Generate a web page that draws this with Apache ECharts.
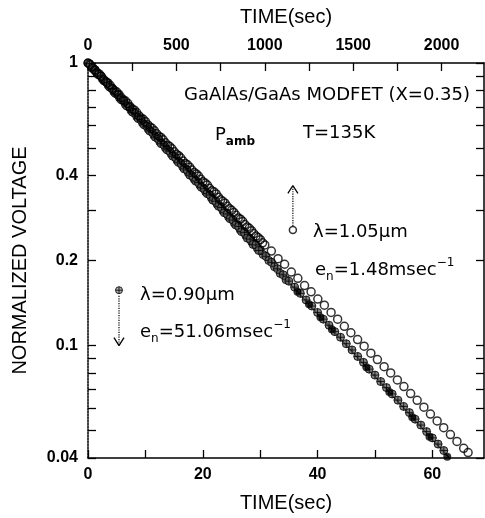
<!DOCTYPE html>
<html><head><meta charset="utf-8">
<script src="https://cdn.jsdelivr.net/npm/echarts/dist/echarts.min.js"></script>
<style>html,body{margin:0;padding:0;background:#fff}#c{width:485px;height:518px}</style>
</head><body><div id="c"></div>
<script>
// λ = 0.90 µm data (bottom time axis, seconds)
const timesA = [0,0.5,1,1.5,2,2.5,3,3.5,4,4.5,5,5.5,6,6.5,7,7.5,8,8.5,9,9.5,10,10.5,11,11.5,12,12.5,13,13.5,14,14.5,15,15.5,16,16.5,17,17.5,18,18.5,19,19.5,20,20.5,21,21.5,22,22.5,23,23.5,24,24.5,25,25.5,26,26.5,27,27.5,28,28.5,29,29.5,30,30.5,31,31.5,32,32.5,33,33.5,34,34.5,35,36,37,38,39,40,41,42,43,44,45,46,47,48,49,50,51,52,53,54,55,56,57,58,59,60,61,62];
const voltsA = [1.000,0.972,0.952,0.924,0.905,0.878,0.861,0.834,0.818,0.791,0.776,0.752,0.738,0.714,0.701,0.679,0.667,0.645,0.634,0.613,0.602,0.583,0.572,0.553,0.544,0.526,0.517,0.500,0.491,0.476,0.467,0.452,0.444,0.429,0.422,0.408,0.401,0.388,0.381,0.369,0.362,0.350,0.344,0.333,0.327,0.316,0.311,0.300,0.295,0.285,0.281,0.271,0.267,0.257,0.254,0.245,0.241,0.233,0.229,0.221,0.218,0.210,0.207,0.200,0.197,0.190,0.187,0.180,0.178,0.171,0.169,0.161,0.153,0.145,0.138,0.131,0.124,0.118,0.112,0.107,0.1015,0.0965,0.0915,0.0872,0.0825,0.0786,0.0746,0.0710,0.0674,0.0641,0.0609,0.0579,0.0549,0.0523,0.0496,0.0471,0.0448,0.0425];
// extra λ = 0.90 µm readings in the dense early part of the decay
const timesA2 = [0.25,0.75,1.25,1.75,2.25,2.75,3.25,3.75,4.25,4.75,5.25,5.75,6.25,6.75,7.25,7.75,8.25,8.75,9.25,9.75,10.25,10.75,11.25,11.75,12.25,12.75,13.25,13.75,14.25,14.75,15.25,15.75,16.25,16.75,17.25,17.75,18.25,18.75,19.25,19.75,20.25,20.75,21.25,21.75,22.25,22.75,23.25,23.75,24.25,24.75,25.25,25.75,26.25,26.75,27.25,27.75,28.25,28.75,29.25,29.75];
const voltsA2 = [0.995,0.958,0.946,0.910,0.899,0.865,0.854,0.822,0.812,0.781,0.771,0.742,0.733,0.705,0.697,0.670,0.662,0.636,0.629,0.605,0.597,0.575,0.567,0.546,0.539,0.518,0.512,0.493,0.487,0.468,0.463,0.445,0.440,0.422,0.418,0.401,0.397,0.382,0.377,0.363,0.359,0.345,0.341,0.327,0.324,0.311,0.308,0.295,0.292,0.281,0.278,0.267,0.264,0.253,0.251,0.240,0.238,0.228,0.227,0.217];
// solid black points on the λ = 0.90 µm trace
const timesFilled = [36.5,38.5,40.5,42.5,48.5,52.5,56.5,59.5,62.6];
const voltsFilled = [0.155,0.140,0.126,0.114,0.0838,0.0685,0.0558,0.0476,0.0404];
// λ = 1.05 µm data (top time axis, seconds)
const timesB = [0,25,50,75,100,125,150,175,200,225,250,275,300,325,350,375,400,425,450,475,500,525,550,575,600,625,650,675,700,725,750,775,800,825,850,875,900,925,950,975,1000,1037,1075,1112,1150,1187,1225,1262,1300,1337,1375,1412,1450,1487,1525,1562,1600,1637,1675,1712,1750,1787,1825,1862,1900,1937,1975,2012,2050,2087,2125,2150];
const voltsB = [1.000,0.966,0.926,0.897,0.860,0.834,0.798,0.774,0.741,0.719,0.688,0.668,0.639,0.620,0.594,0.576,0.551,0.535,0.512,0.497,0.475,0.461,0.441,0.428,0.410,0.398,0.380,0.370,0.353,0.344,0.328,0.319,0.305,0.296,0.283,0.275,0.263,0.255,0.244,0.237,0.227,0.216,0.203,0.194,0.182,0.173,0.163,0.155,0.146,0.139,0.131,0.124,0.117,0.111,0.105,0.0995,0.0940,0.0892,0.0842,0.0800,0.0756,0.0716,0.0676,0.0640,0.0605,0.0572,0.0541,0.0512,0.0484,0.0458,0.0433,0.0418];
// extra λ = 1.05 µm readings in the dense early part
const timesB2 = [12.5,37.5,62.5,87.5,112.5,137.5,162.5,187.5,212.5,237.5,262.5,287.5,312.5,337.5,362.5,387.5,412.5,437.5,462.5,487.5,512.5,537.5,562.5,587.5,612.5,637.5,662.5,687.5,712.5,737.5,762.5,787.5,812.5,837.5,862.5,887.5,912.5,937.5,962.5,987.5];
const voltsB2 = [0.985,0.943,0.915,0.876,0.850,0.813,0.789,0.755,0.733,0.701,0.681,0.651,0.632,0.605,0.587,0.562,0.545,0.522,0.506,0.485,0.470,0.450,0.436,0.418,0.405,0.388,0.376,0.360,0.350,0.335,0.324,0.311,0.301,0.289,0.280,0.268,0.260,0.249,0.241,0.231];
// fit line (bottom axis)
const fitT = [0, 63];
const fitV = [1, 0.04];
// axis ticks / labels
const bottomLabels = [0,20,40,60];
const bottomTicks = [0,10,20,30,40,50,60];
const topLabels = [0,500,1000,1500,2000];
const topTicks = [0,250,500,750,1000,1250,1500,1750,2000];
const yLabels = [1,0.4,0.2,0.1,0.04];
const yTicks = [1,0.9,0.8,0.7,0.6,0.5,0.4,0.3,0.2,0.1,0.09,0.08,0.07,0.06,0.05,0.04];
// annotation arrows (bottom-axis coordinates)
const arrowDownT = [5.4, 5.4];
const arrowDownV = [0.150, 0.100];
const headDownT = [4.53, 5.4, 6.27];
const headDownV = [0.1067, 0.100, 0.1067];
const markerDown = [5.4, 0.157];
const arrowUpT = [35.7, 35.7];
const arrowUpV = [0.265, 0.3685];
const headUpT = [34.83, 35.7, 36.57];
const headUpV = [0.3454, 0.3685, 0.3454];
const markerUp = [35.7, 0.2565];

const zip = (a, b) => a.map((v, i) => [v, b[i]]);
const FONT = '"Liberation Sans", Arial, Helvetica, sans-serif';
const AFONT = '"DejaVu Sans", "Liberation Sans", sans-serif';
const crossCircle = 'path://M10,0A10,10,0,1,1,10,20A10,10,0,1,1,10,0ZM10,0L10,20M0,10L20,10';

const chart = echarts.init(document.getElementById('c'), null, {renderer: 'canvas'});
const axisLine = {show: true, onZero: false, lineStyle: {color: '#000', width: 1.5}};
const tickStyle = {color: '#000', width: 1.3};
const yAxisBase = {
  type: 'log', logBase: 10, min: 0.04, max: 1,
  splitLine: {show: false},
  axisTick: {show: true, inside: true, length: 8, customValues: yTicks, lineStyle: tickStyle},
  minorTick: {show: false}
};
const rich = {
  a: {fontSize: 18, fontFamily: AFONT, color: '#000', lineHeight: 26},
  sub: {fontSize: 12, fontFamily: AFONT, color: '#000', lineHeight: 14, verticalAlign: 'bottom'},
  subb: {fontSize: 12, fontFamily: AFONT, fontWeight: 'bold', color: '#000', lineHeight: 14, verticalAlign: 'bottom'},
  sup: {fontSize: 12, fontFamily: AFONT, color: '#000', lineHeight: 14, verticalAlign: 'top'}
};
function txt(text, x, y, align) {
  return {type: 'text', x: x, y: y, style: {text: text, rich: rich, fill: '#000', font: '18px ' + AFONT, align: align || 'left', verticalAlign: 'middle'}};
}
const labelStyle = {fontSize: 16, fontWeight: 'bold', fontFamily: FONT, color: '#000'};
chart.setOption({
  animation: false,
  backgroundColor: '#fff',
  grid: {left: 88, right: 1, top: 63, bottom: 55, containLabel: false},
  xAxis: [
    {type: 'value', position: 'bottom', min: 0, max: 69,
     name: 'TIME(sec)', nameLocation: 'middle', nameGap: 35,
     nameTextStyle: {fontSize: 20, fontFamily: FONT, color: '#000'},
     axisLine: axisLine, splitLine: {show: false},
     axisTick: {inside: true, length: 8, customValues: bottomTicks, lineStyle: tickStyle},
     axisLabel: Object.assign({customValues: bottomLabels, margin: 9, formatter: v => String(v)}, labelStyle)},
    {type: 'value', position: 'top', min: 0, max: 2240,
     name: 'TIME(sec)', nameLocation: 'middle', nameGap: 36,
     nameTextStyle: {fontSize: 20, fontFamily: FONT, color: '#000'},
     axisLine: axisLine, splitLine: {show: false},
     axisTick: {inside: true, length: 8, customValues: topTicks, lineStyle: tickStyle},
     axisLabel: Object.assign({customValues: topLabels, margin: 9, formatter: v => String(v)}, labelStyle)}
  ],
  yAxis: [
    Object.assign({}, yAxisBase, {position: 'left',
      name: 'NORMALIZED VOLTAGE', nameLocation: 'middle', nameGap: 58, nameRotate: 90,
      nameTextStyle: {fontSize: 20, fontFamily: FONT, color: '#000'},
      axisLine: {show: true, onZero: false, lineStyle: {color: '#000', width: 1.5, type: [2, 1]}},
      axisLabel: Object.assign({customValues: yLabels, margin: 10,
        formatter: v => String(+(+v).toPrecision(3))}, labelStyle)}),
    Object.assign({}, yAxisBase, {position: 'right',
      axisLine: axisLine, axisLabel: {show: false}})
  ],
  series: [
    {type: 'line', xAxisIndex: 0, yAxisIndex: 0, data: zip(fitT, fitV), symbol: 'none',
     lineStyle: {color: '#000', width: 1.5}, z: 3},
    {type: 'scatter', xAxisIndex: 0, yAxisIndex: 0, data: zip(timesA, voltsA), symbol: crossCircle, symbolSize: 8,
     itemStyle: {color: '#666', borderColor: '#000', borderWidth: 1}, z: 4},
    {type: 'scatter', xAxisIndex: 0, yAxisIndex: 0, data: zip(timesA2, voltsA2), symbol: crossCircle, symbolSize: 8,
     itemStyle: {color: '#666', borderColor: '#000', borderWidth: 1}, z: 4},
    {type: 'scatter', xAxisIndex: 0, yAxisIndex: 0, data: zip(timesFilled, voltsFilled), symbol: 'circle', symbolSize: 8,
     itemStyle: {color: '#000'}, z: 5},
    {type: 'scatter', xAxisIndex: 1, yAxisIndex: 0, data: zip(timesB, voltsB), symbol: 'circle', symbolSize: 8,
     itemStyle: {color: 'rgba(0,0,0,0)', borderColor: '#000', borderWidth: 1.5}, z: 6},
    {type: 'scatter', xAxisIndex: 1, yAxisIndex: 0, data: zip(timesB2, voltsB2), symbol: 'circle', symbolSize: 8,
     itemStyle: {color: 'rgba(0,0,0,0)', borderColor: '#000', borderWidth: 1.5}, z: 6},
    // annotation arrows
    {type: 'line', xAxisIndex: 0, yAxisIndex: 0, data: zip(arrowDownT, arrowDownV), symbol: 'none',
     lineStyle: {color: '#000', width: 1.2, type: 'dotted'}},
    {type: 'line', xAxisIndex: 0, yAxisIndex: 0, data: zip(headDownT, headDownV), symbol: 'none',
     lineStyle: {color: '#000', width: 1.3}},
    {type: 'scatter', xAxisIndex: 0, yAxisIndex: 0, data: [markerDown], symbol: crossCircle, symbolSize: 7,
     itemStyle: {color: '#999', borderColor: '#000', borderWidth: 1}},
    {type: 'line', xAxisIndex: 0, yAxisIndex: 0, data: zip(arrowUpT, arrowUpV), symbol: 'none',
     lineStyle: {color: '#000', width: 1.2, type: 'dotted'}},
    {type: 'line', xAxisIndex: 0, yAxisIndex: 0, data: zip(headUpT, headUpV), symbol: 'none',
     lineStyle: {color: '#000', width: 1.3}},
    {type: 'scatter', xAxisIndex: 0, yAxisIndex: 0, data: [markerUp], symbol: 'circle', symbolSize: 7,
     itemStyle: {color: '#fff', borderColor: '#000', borderWidth: 1.5}}
  ],
  graphic: [
    txt('{a|GaAlAs/GaAs MODFET (X=0.35)}', 470, 95, 'right'),
    txt('{a|P}{subb|amb}', 215, 135),
    txt('{a|T=135K}', 303, 133),
    txt('{a|λ=1.05µm}', 313, 232),
    txt('{a|e}{sub|n}{a|=1.48msec}{sup|−1}', 315, 270),
    txt('{a|λ=0.90µm}', 140, 295),
    txt('{a|e}{sub|n}{a|=51.06msec}{sup|−1}', 140, 332)
  ]
});
</script></body></html>
